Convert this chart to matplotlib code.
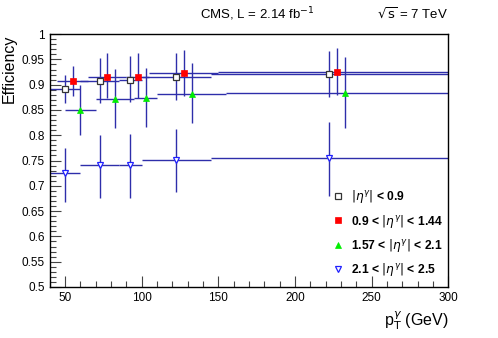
import matplotlib
matplotlib.use("Agg")
import matplotlib.pyplot as plt
from matplotlib.lines import Line2D
from matplotlib.ticker import MultipleLocator

plt.rcParams['font.family'] = ['Liberation Sans', 'DejaVu Sans']

# pT bins (GeV) and bin centres
bin_lo = [40, 60, 85, 100, 145]
bin_hi = [60, 85, 100, 145, 300]
pt_mid = [50, 72.5, 92.5, 122.5, 222.5]

# efficiency per eta region: value, upper and lower error-bar ends
eff_b = [0.891, 0.908, 0.910, 0.916, 0.921]
up_b = [0.920, 0.953, 0.956, 0.963, 0.966]
lo_b = [0.864, 0.864, 0.865, 0.870, 0.876]

eff_r = [0.908, 0.916, 0.916, 0.923, 0.926]
up_r = [0.936, 0.963, 0.963, 0.969, 0.973]
lo_r = [0.878, 0.874, 0.874, 0.877, 0.880]

eff_g = [0.850, 0.872, 0.873, 0.882, 0.884]
up_g = [0.900, 0.931, 0.933, 0.943, 0.954]
lo_g = [0.801, 0.814, 0.816, 0.824, 0.814]

eff_u = [0.725, 0.741, 0.742, 0.751, 0.756]
up_u = [0.775, 0.801, 0.802, 0.812, 0.827]
lo_u = [0.669, 0.676, 0.676, 0.687, 0.680]

labels = [r'$|\eta^{\gamma}|$ < 0.9',
          r'0.9 < $|\eta^{\gamma}|$ < 1.44',
          r'1.57 < $|\eta^{\gamma}|$ < 2.1',
          r'2.1 < $|\eta^{\gamma}|$ < 2.5']

series = [
    (eff_b, up_b, lo_b, 0, dict(marker='s', mfc='white', mec='#333333', ms=4.3, mew=0.9)),
    (eff_r, up_r, lo_r, 5, dict(marker='s', mfc='red', mec='red', ms=4.3, mew=0.5)),
    (eff_g, up_g, lo_g, 10, dict(marker='^', mfc='#00ee00', mec='#00ee00', ms=4.3, mew=0.5)),
    (eff_u, up_u, lo_u, 0, dict(marker='v', mfc='white', mec='#2020ff', ms=4.6, mew=0.9)),
]

err_col = '#2e2eaa'

fig = plt.figure(figsize=(4.98, 3.38), dpi=100)
ax = fig.add_axes([0.100, 0.151, 0.800, 0.748])

handles = []
for (eff, up, lo, shift, sty), lab in zip(series, labels):
    x = [p + shift for p in pt_mid]
    xl = [p - l for p, l in zip(pt_mid, bin_lo)]
    xh = [h - p for p, h in zip(pt_mid, bin_hi)]
    yl = [e - l for e, l in zip(eff, lo)]
    yh = [u - e for e, u in zip(eff, up)]
    ax.errorbar(x, eff, xerr=[xl, xh], yerr=[yl, yh], fmt='none',
                ecolor=err_col, elinewidth=1.0, capsize=0, zorder=2)
    ax.plot(x, eff, ls='none', zorder=3, **sty)
    hs = dict(sty)
    hs['ms'] = sty['ms'] * 0.85
    handles.append(Line2D([], [], ls='none', **hs))

ax.set_xlim(40, 300)
ax.set_ylim(0.5, 1.0)
ax.xaxis.set_major_locator(MultipleLocator(50))
ax.xaxis.set_minor_locator(MultipleLocator(10))
ax.yaxis.set_major_locator(MultipleLocator(0.05))
ax.yaxis.set_minor_locator(MultipleLocator(0.01))
ax.yaxis.set_major_formatter(matplotlib.ticker.FuncFormatter(lambda v, p: ('%.2f' % v).rstrip('0').rstrip('.')))
ax.tick_params(which='major', direction='in', length=8, width=0.8,
               labelsize=8.5, top=False, right=False, color='#444444')
ax.tick_params(which='minor', direction='in', length=4, width=0.8,
               top=False, right=False, color='#444444')
for s in ax.spines.values():
    s.set_linewidth(1.0)

ax.set_ylabel('Efficiency', fontsize=11.5, loc='top')
ax.set_xlabel(r'p$_{\rm T}^{\gamma}$ (GeV)', fontsize=11.5, loc='right')

fig.text(0.402, 0.945, r'CMS, L = 2.14 fb$^{-1}$', fontsize=9.5)
fig.text(0.900, 0.945, r'$\sqrt{\rm s}$ = 7 TeV', fontsize=9.5, ha='right')

fig.legend(handles, labels, loc='upper left', bbox_to_anchor=(0.645, 0.475),
           frameon=False, prop={'weight': 'bold', 'size': 8.7},
           handlelength=1.0, handletextpad=0.6, labelspacing=0.6)

fig.savefig('out.png', dpi=100)
